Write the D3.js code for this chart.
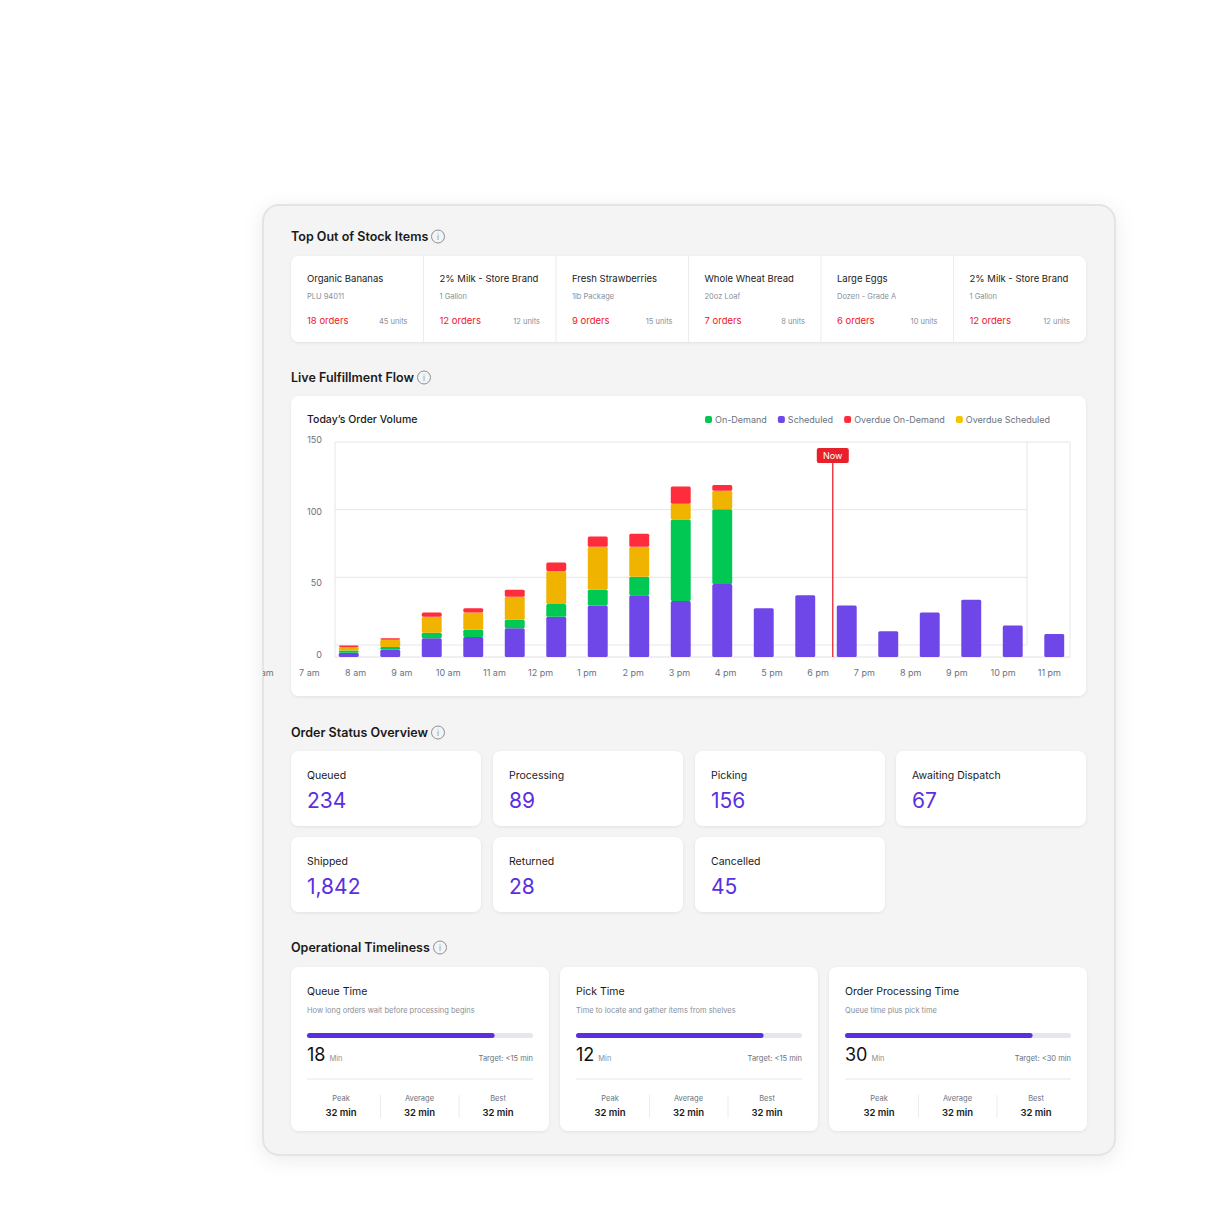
<!DOCTYPE html>
<html><head><meta charset="utf-8">
<script src="https://cdn.jsdelivr.net/npm/d3@7"></script>
<style>body{margin:0;background:#fff;font-family:Inter,"Noto Sans",sans-serif}svg text{font-family:Inter,"Noto Sans",sans-serif}</style>
</head><body><svg id="c" width="1216" height="1216"></svg>
<script>
const hours=["6 am","7 am","8 am","9 am","10 am","11 am","12 pm","1 pm","2 pm","3 pm","4 pm","5 pm","6 pm","7 pm","8 pm","9 pm","10 pm","11 pm"];
const barSlots=["b0","b1","b2","b3","b4","b5","b6","b7","b8","b9","b10","b11","b12","b13","b14","b15","b16","b17"];
const scheduled=[3,5,13,14,20,28,36,43,39,51,34,43,36,18,31,40,22,16];
const onDemand=[1.5,2,4,5,6,9,11,13,57,52,0,0,0,0,0,0,0,0];
const overdueScheduled=[2.5,5,11,12,16,23,30,21,11,13,0,0,0,0,0,0,0,0];
const overdueOnDemand=[1,1,3,3,5,6,7,9,12,4,0,0,0,0,0,0,0,0];
const yTicks=[0,50,100,150];
const seriesNames=["On-Demand","Scheduled","Overdue On-Demand","Overdue Scheduled"];
const seriesColors=["#00c853","#6f47e8","#ff2d3b","#f5c400"];
const stockNames=["Organic Bananas","2% Milk - Store Brand","Fresh Strawberries","Whole Wheat Bread","Large Eggs","2% Milk - Store Brand"];
const stockSubs=["PLU 94011","1 Gallon","1lb Package","20oz Loaf","Dozen - Grade A","1 Gallon"];
const stockOrders=[18,12,9,7,6,12];
const stockUnits=[45,12,15,8,10,12];
const statusNames=["Queued","Processing","Picking","Awaiting Dispatch","Shipped","Returned","Cancelled"];
const statusValues=[234,89,156,67,1842,28,45];
const timeTitles=["Queue Time","Pick Time","Order Processing Time"];
const timeDescs=["How long orders wait before processing begins","Time to locate and gather items from shelves","Queue time plus pick time"];
const timeValues=[18,12,30];
const timeTargets=["<15 min","<15 min","<30 min"];
const timeProgress=[0.83,0.83,0.83];

const svg=d3.select("#c");
const defs=svg.append("defs");
const f=defs.append("filter").attr("id","sh").attr("x","-10%").attr("y","-10%").attr("width","120%").attr("height","120%");
f.append("feDropShadow").attr("dx",0).attr("dy",4).attr("stdDeviation",10).attr("flood-color","#000").attr("flood-opacity",0.08);
const f2=defs.append("filter").attr("id","sh2").attr("x","-10%").attr("y","-20%").attr("width","120%").attr("height","140%");
f2.append("feDropShadow").attr("dx",0).attr("dy",1).attr("stdDeviation",1.5).attr("flood-color","#000").attr("flood-opacity",0.08);
defs.append("clipPath").attr("id","panel").append("rect").attr("x",263).attr("y",205).attr("width",852).attr("height",950).attr("rx",16);

svg.append("rect").attr("x",263).attr("y",205).attr("width",852).attr("height",950).attr("rx",16)
  .attr("fill","#f4f4f4").attr("stroke","#e4e4e4").attr("stroke-width",2).attr("filter","url(#sh)");
const g=svg.append("g").attr("clip-path","url(#panel)");

function title(t,y,iconX){
  g.append("text").attr("x",291).attr("y",y).attr("font-size",12.5).attr("font-weight",600).attr("fill","#1a1a1a").text(t);
  g.append("circle").attr("cx",iconX).attr("cy",y-4.5).attr("r",6.5).attr("fill","none").attr("stroke","#8a8f99").attr("stroke-width",1);
  g.append("text").attr("x",iconX).attr("y",y-1).attr("text-anchor","middle").attr("font-size",8).attr("fill","#8a8f99").text("i");
}
function card(x,y,w,h){g.append("rect").attr("x",x).attr("y",y).attr("width",w).attr("height",h).attr("rx",8).attr("fill","#fff").attr("filter","url(#sh2)");}

// Stock
title("Top Out of Stock Items",241,438);
card(291,256,795,86);
const sx=d3.scaleBand().domain(d3.range(6)).range([291,1086]);
stockNames.forEach((n,i)=>{
  const x=sx(i);
  if(i>0) g.append("line").attr("x1",x).attr("x2",x).attr("y1",256).attr("y2",342).attr("stroke","#ececec");
  g.append("text").attr("x",x+16).attr("y",282).attr("font-size",9.5).attr("fill","#1a1a1a").text(n);
  g.append("text").attr("x",x+16).attr("y",299).attr("font-size",7.5).attr("fill","#8a8f99").text(stockSubs[i]);
  g.append("text").attr("x",x+16).attr("y",324).attr("font-size",9.5).attr("fill","#f0142a").text(stockOrders[i]+" orders");
  g.append("text").attr("x",x+sx.bandwidth()-16).attr("y",324).attr("text-anchor","end").attr("font-size",7.5).attr("fill","#8a8f99").text(stockUnits[i]+" units");
});

// Chart
title("Live Fulfillment Flow",382,424);
card(291,396,795,300);
g.append("text").attr("x",307).attr("y",423).attr("font-size",10.5).attr("fill","#1a1a1a").attr("font-weight",500).text("Today\u2019s Order Volume");
// legend
let lx=705;
seriesNames.forEach((n,i)=>{
  g.append("rect").attr("x",lx).attr("y",416).attr("width",7).attr("height",7).attr("rx",2).attr("fill",seriesColors[i]);
  const t=g.append("text").attr("x",lx+10).attr("y",423).attr("font-size",9).attr("fill","#6b7280").text(n);
  lx+=t.node().getComputedTextLength()+21;
});
const y=d3.scaleLinear().domain([0,150]).range([657,442]);
const yGrid=d3.scaleLinear().domain([0,150]).range([645,442]);
yTicks.forEach(v=>{
  g.append("line").attr("x1",335).attr("x2",v===150?1070:1027).attr("y1",yGrid(v)).attr("y2",yGrid(v)).attr("stroke","#e6e6e6");
  g.append("text").attr("x",322).attr("y",y(v)+1).attr("text-anchor","end").attr("font-size",9).attr("fill","#6b7280").text(v);
});
g.append("line").attr("x1",335).attr("x2",335).attr("y1",442).attr("y2",657).attr("stroke","#e6e6e6");
g.append("line").attr("x1",1027).attr("x2",1027).attr("y1",442).attr("y2",645).attr("stroke","#e6e6e6");
g.append("line").attr("x1",1070).attr("x2",1070).attr("y1",442).attr("y2",657).attr("stroke","#e6e6e6");
g.append("line").attr("x1",335).attr("x2",1070).attr("y1",657).attr("y2",657).attr("stroke","#e0e0e0");
const xb=d3.scaleBand().domain(barSlots).range([328,1075]).paddingInner(0.52).paddingOuter(0.26);
const data=barSlots.map((s,i)=>({slot:s,Scheduled:scheduled[i],"On-Demand":onDemand[i],"Overdue Scheduled":overdueScheduled[i],"Overdue On-Demand":overdueOnDemand[i]}));
const keys=["Scheduled","On-Demand","Overdue Scheduled","Overdue On-Demand"];
const col={"Scheduled":"#6f47e8","On-Demand":"#00c853","Overdue Scheduled":"#f0b400","Overdue On-Demand":"#ff2d3b"};
const stack=d3.stack().keys(keys)(data);
stack.forEach(layer=>{
  g.append("g").selectAll("rect").data(layer.filter(d=>d[1]-d[0]>0)).join("rect")
    .attr("x",d=>xb(d.data.slot)).attr("width",xb.bandwidth())
    .attr("y",d=>y(d[1])).attr("height",d=>y(d[0])-y(d[1]))
    .attr("fill",col[layer.key]).attr("rx",1.5);
});
const xl=d3.scaleBand().domain(hours).range([240,1072.5]);
hours.forEach(h=>{
  g.append("text").attr("x",xl(h)+xl.bandwidth()/2).attr("y",676).attr("text-anchor","middle").attr("font-size",9).attr("fill","#6b7280").text(h);
});
const nowX=xb("b12")-4;
g.append("line").attr("x1",nowX).attr("x2",nowX).attr("y1",458).attr("y2",657).attr("stroke","#e8101e").attr("stroke-width",1.2);
g.append("rect").attr("x",nowX-16).attr("y",448).attr("width",32).attr("height",15).attr("rx",2).attr("fill","#e8202c");
g.append("text").attr("x",nowX).attr("y",459).attr("text-anchor","middle").attr("font-size",9).attr("fill","#fff").text("Now");

// Status
title("Order Status Overview",737,438);
const stX=[291,493,695,896];
statusNames.forEach((n,i)=>{
  const x=stX[i%4], yy=i<4?751:837;
  card(x,yy,190,75);
  g.append("text").attr("x",x+16).attr("y",yy+28).attr("font-size",10.5).attr("fill","#1a1a1a").text(n);
  g.append("text").attr("x",x+16).attr("y",yy+57).attr("font-size",21).attr("fill","#5b2fe0").text(d3.format(",")(statusValues[i]));
});

// Timeliness
title("Operational Timeliness",952,440);
const tX=[291,560,829];
timeTitles.forEach((t,i)=>{
  const x=tX[i];
  card(x,967,258,164);
  g.append("text").attr("x",x+16).attr("y",995).attr("font-size",10.5).attr("fill","#1a1a1a").text(t);
  g.append("text").attr("x",x+16).attr("y",1013).attr("font-size",7.5).attr("fill","#8a8f99").text(timeDescs[i]);
  const px=d3.scaleLinear().domain([0,1]).range([x+16,x+242]);
  g.append("rect").attr("x",px(0)).attr("y",1033).attr("width",px(1)-px(0)).attr("height",5).attr("rx",2.5).attr("fill","#e6e7ee");
  g.append("rect").attr("x",px(0)).attr("y",1033).attr("width",px(timeProgress[i])-px(0)).attr("height",5).attr("rx",2.5).attr("fill","#5b2fe0");
  const tv=g.append("text").attr("x",x+16).attr("y",1061).attr("font-size",18).attr("fill","#111").text(timeValues[i]);
  g.append("text").attr("x",x+16+tv.node().getComputedTextLength()+4).attr("y",1061).attr("font-size",7.5).attr("fill","#8a8f99").text("Min");
  g.append("text").attr("x",x+242).attr("y",1061).attr("text-anchor","end").attr("font-size",7.5).attr("fill","#6b7280").text("Target: "+timeTargets[i]);
  g.append("line").attr("x1",x+16).attr("x2",x+242).attr("y1",1079).attr("y2",1079).attr("stroke","#e6e6e6");
  ["Peak","Average","Best"].forEach((lab,j)=>{
    const cx=x+50+j*78.5;
    if(j>0) g.append("line").attr("x1",cx-39).attr("x2",cx-39).attr("y1",1095).attr("y2",1118).attr("stroke","#ececec");
    g.append("text").attr("x",cx).attr("y",1101).attr("text-anchor","middle").attr("font-size",7.5).attr("fill","#6b7280").text(lab);
    g.append("text").attr("x",cx).attr("y",1116).attr("text-anchor","middle").attr("font-size",9.5).attr("font-weight",600).attr("fill","#1a1a1a").text("32 min");
  });
});
</script></body></html>
